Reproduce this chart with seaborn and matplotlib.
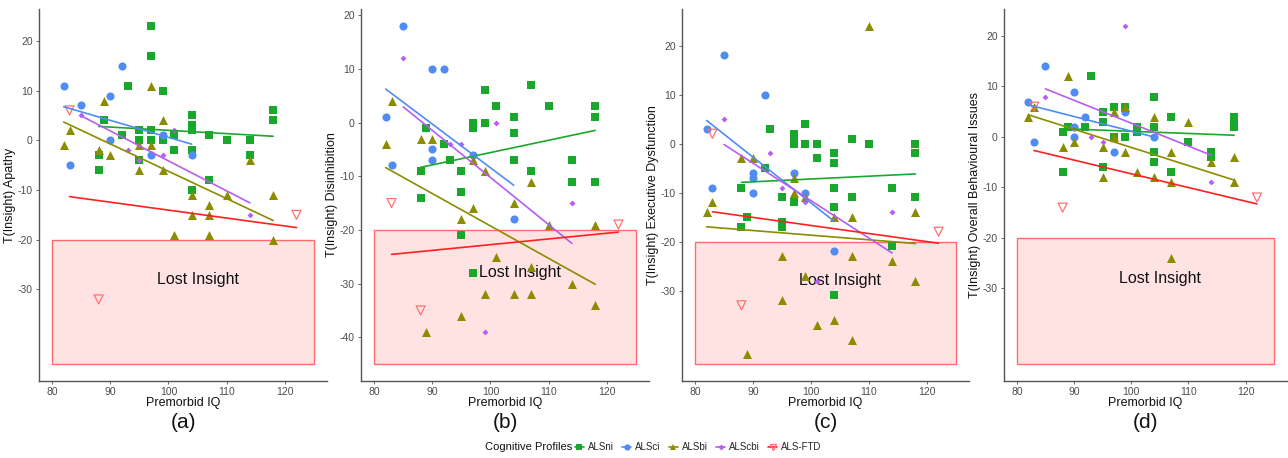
import numpy as np
import pandas as pd
import seaborn as sns
import matplotlib.pyplot as plt
from matplotlib.patches import Rectangle
from matplotlib.lines import Line2D

sns.set_style("ticks")
plt.rcParams['font.family'] = ['Liberation Sans', 'DejaVu Sans']
plt.rcParams['axes.unicode_minus'] = False

# Premorbid IQ vs T(Insight) points, (iq, t) per cognitive profile

# (a) Apathy
apathy_ni = [(88, -3), (88, -6), (89, 4), (92, 1), (93, 11), (95, 2), (95, 0), (95, -4), (97, 23), (97, 17),
             (97, 2), (97, 0), (99, 10), (99, 0), (101, 1), (101, -2), (104, 5), (104, 3), (104, 2), (104, -2),
             (104, -10), (107, 1), (107, -8), (110, 0), (114, 0), (114, -3), (118, 6), (118, 4)]
apathy_ci = [(82, 11), (83, -5), (85, 7), (90, 9), (90, 0), (92, 15), (97, -3), (99, 1), (104, -3)]
apathy_bi = [(82, -1), (83, 2), (88, -2), (89, 8), (90, -3), (95, -1), (95, -6), (97, -1), (97, 11), (99, 4),
             (99, -6), (101, -19), (104, -11), (104, -15), (107, -13), (107, -15), (107, -19), (110, -11),
             (114, -4), (118, -11), (118, -20)]
apathy_cbi = [(85, 5), (93, -2), (95, -4), (99, -3), (101, 2), (114, -15)]
apathy_ftd = [(83, 6), (88, -32), (122, -15)]

# (b) Disinhibition
disinh_ni = [(88, -9), (88, -14), (89, -1), (92, -4), (93, -7), (95, -9), (95, -13), (95, -21), (97, 0), (97, -1),
             (97, -28), (99, 6), (99, 0), (101, 3), (104, 1), (104, -2), (104, -7), (107, 7), (107, -9), (110, 3),
             (114, -7), (114, -11), (118, 3), (118, 1), (118, -11)]
disinh_ci = [(82, 1), (83, -8), (85, 18), (90, 10), (90, -5), (90, -7), (92, 10), (97, -6), (104, -18)]
disinh_bi = [(82, -4), (83, 4), (88, -3), (89, -39), (90, -3), (95, -18), (95, -36), (97, -7), (97, -16), (99, -9),
             (99, -32), (101, -25), (104, -15), (104, -32), (107, -11), (107, -27), (107, -32), (110, -19),
             (114, -30), (118, -19), (118, -34)]
disinh_cbi = [(85, 12), (93, -4), (95, -4), (99, -39), (101, 0), (114, -15)]
disinh_ftd = [(83, -15), (88, -35), (122, -19)]

# (c) Executive Dysfunction
exec_ni = [(88, -9), (88, -17), (89, -15), (92, -5), (93, 3), (95, -11), (95, -16), (95, -17), (97, 2), (97, 1),
           (97, 0), (97, -12), (99, 4), (99, 0), (101, 0), (101, -3), (104, -2), (104, -4), (104, -9), (104, -13),
           (104, -31), (107, 1), (107, -11), (110, 0), (114, -9), (114, -21), (118, 0), (118, -2), (118, -11)]
exec_ci = [(82, 3), (83, -9), (85, 18), (90, -6), (90, -7), (90, -10), (92, 10), (97, -6), (99, -10), (104, -22)]
exec_bi = [(82, -14), (83, -12), (88, -3), (89, -43), (90, -3), (95, -23), (95, -32), (97, -7), (97, -10),
           (99, -11), (99, -27), (101, -37), (104, -15), (104, -36), (107, -15), (107, -23), (107, -40),
           (110, 24), (114, -24), (118, -14), (118, -28)]
exec_cbi = [(85, 5), (93, -2), (95, -9), (99, -12), (101, -28), (114, -14)]
exec_ftd = [(83, 2), (88, -33), (122, -18)]

# (d) Overall Behavioural Issues
overall_ni = [(88, 1), (88, -7), (89, 2), (92, 2), (93, 12), (95, 5), (95, 3), (95, -6), (97, 6), (97, 0),
              (99, 6), (99, 0), (101, 2), (101, 1), (104, 8), (104, 2), (104, -3), (104, -5), (107, 4), (107, -7),
              (110, -1), (114, -3), (114, -4), (118, 4), (118, 3), (118, 2)]
overall_ci = [(82, 7), (83, -1), (85, 14), (90, 9), (90, 2), (90, 0), (92, 4), (97, -3), (99, 5), (104, 0)]
overall_bi = [(82, 4), (83, 6), (88, -2), (89, 12), (90, -1), (95, -2), (95, -8), (97, 5), (97, 0), (99, 6),
              (99, -3), (101, -7), (104, 4), (104, -8), (107, -3), (107, -9), (107, -24), (110, 3), (114, -5),
              (118, -4), (118, -9)]
overall_cbi = [(85, 8), (93, 0), (95, -1), (99, 22), (114, -9)]
overall_ftd = [(83, 6), (88, -14), (122, -12)]

groups = ['ALSni', 'ALSci', 'ALSbi', 'ALScbi', 'ALS-FTD']
colors = {'ALSni': '#1aa82c', 'ALSci': '#4f8cf5', 'ALSbi': '#8c8c00', 'ALScbi': '#b85cf2', 'ALS-FTD': '#ff2020'}
markers = {'ALSni': 's', 'ALSci': 'o', 'ALSbi': '^', 'ALScbi': 'D', 'ALS-FTD': 'v'}
msize = {'ALSni': 30, 'ALSci': 34, 'ALSbi': 42, 'ALScbi': 9, 'ALS-FTD': 42}

panels = [
    ('T(Insight) Apathy', '(a)', [apathy_ni, apathy_ci, apathy_bi, apathy_cbi, apathy_ftd], [20, 10, 0, -10, -20, -30]),
    ('T(Insight) Disinhibition', '(b)', [disinh_ni, disinh_ci, disinh_bi, disinh_cbi, disinh_ftd], [20, 10, 0, -10, -20, -30, -40]),
    ('T(Insight) Executive Dysfunction', '(c)', [exec_ni, exec_ci, exec_bi, exec_cbi, exec_ftd], [20, 10, 0, -10, -20, -30]),
    ('T(Insight) Overall Behavioural Issues', '(d)', [overall_ni, overall_ci, overall_bi, overall_cbi, overall_ftd], [20, 10, 0, -10, -20, -30]),
]

W, H = 1288, 458
fig = plt.figure(figsize=(W / 100, H / 100), dpi=100)
lefts = [39, 361, 682, 1004]
widths = [288, 288, 287, 283]
bottom = 1 - 381 / H
height = (381 - 9) / H

for i, (ylab, tag, data, yticks) in enumerate(panels):
    ax = fig.add_axes([lefts[i] / W, bottom, widths[i] / W, height])
    # lost insight zone
    ax.add_patch(Rectangle((80, -45), 45, 25, facecolor='#ffe3e3', edgecolor='#ff6b6b', lw=1.0, zorder=0))
    ax.text(105, -28, 'Lost Insight', fontsize=11.5, ha='center', va='center', color='#111111', zorder=1)

    for g, pts in zip(groups, data):
        df = pd.DataFrame(pts, columns=['iq', 't'])
        c = colors[g]
        if g == 'ALS-FTD':
            sns.scatterplot(data=df, x='iq', y='t', marker='v', s=msize[g], facecolors='none',
                            edgecolors='#ff7070', linewidth=0.9, ax=ax, zorder=3)
        else:
            sns.scatterplot(data=df, x='iq', y='t', marker=markers[g], s=msize[g], color=c,
                            linewidth=0, ax=ax, zorder=3)
        sns.regplot(data=df, x='iq', y='t', scatter=False, ci=None, color=c,
                    line_kws={'lw': 1.2, 'zorder': 4}, ax=ax)

    ax.set_yticks(yticks)
    ax.set_xticks([80, 90, 100, 110, 120])
    ax.set_xlim(77.75, 127.25)
    ax.set_xlabel('Premorbid IQ', fontsize=9, color='#111111', labelpad=0)
    ax.set_ylabel(ylab, fontsize=9, color='#111111', labelpad=1)
    ax.tick_params(labelsize=7.5, colors='#4d4d4d', length=2.5, width=0.6, pad=2)
    for s in ['left', 'bottom']:
        ax.spines[s].set_color('#555555')
        ax.spines[s].set_linewidth(1.0)
    sns.despine(ax=ax)
    ax.text(0.5, -0.085, tag, transform=ax.transAxes, fontsize=15, ha='center', va='top', color='#111111')

handles = []
for g in groups:
    if g == 'ALS-FTD':
        h = Line2D([], [], color=colors[g], marker='v', markerfacecolor='none', markeredgecolor='#ff7070',
                   markersize=5, lw=1.2)
    else:
        h = Line2D([], [], color=colors[g], marker=markers[g], markersize=4.5 if g != 'ALScbi' else 3,
                   markeredgewidth=0, lw=1.2)
    handles.append(h)

ly = 1 - 447 / H
fig.text(485 / W, ly, 'Cognitive Profiles', fontsize=8, va='center', ha='left', color='#111111')
fig.legend(handles, groups, loc='center left', bbox_to_anchor=(575 / W, ly), ncol=5, frameon=False,
           fontsize=7, handlelength=0.9, handletextpad=0.4, columnspacing=0.9, borderaxespad=0, borderpad=0)

fig.savefig('out.png', dpi=100)
